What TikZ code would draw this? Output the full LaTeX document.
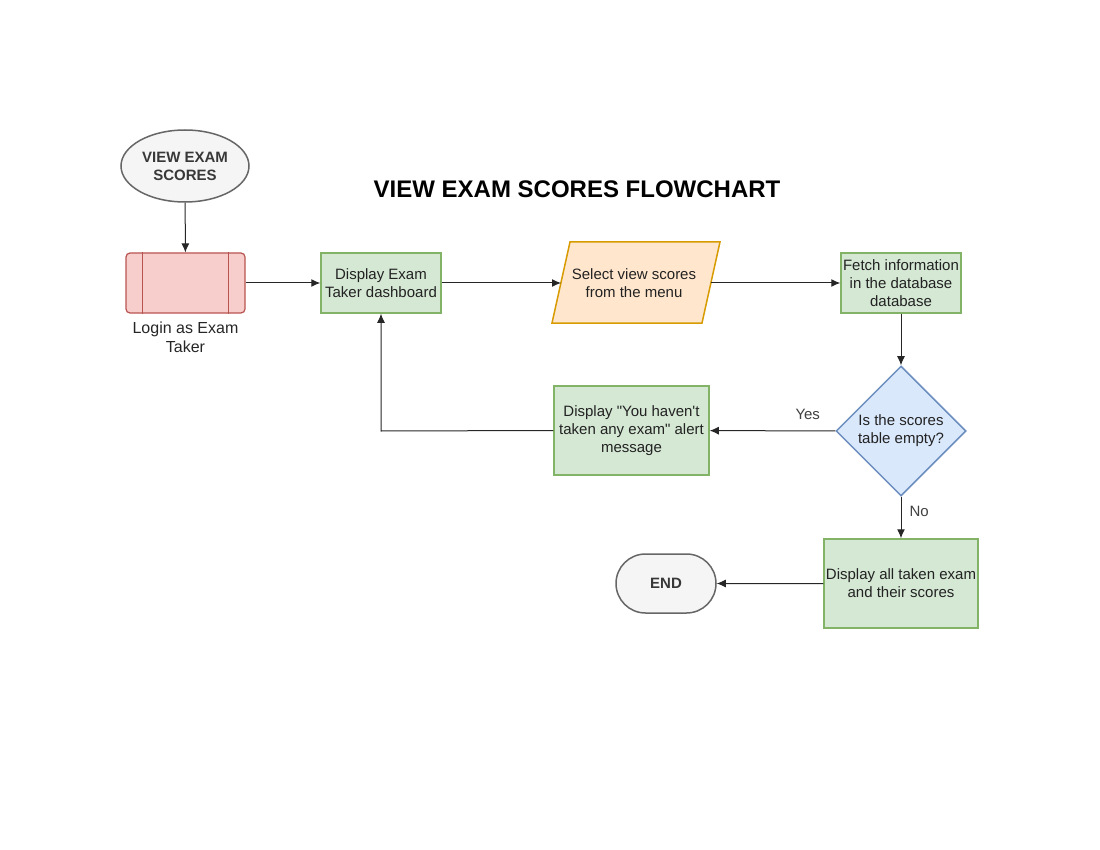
\documentclass[tikz,border=0pt]{standalone}
\usepackage{fontspec}
\setmainfont{Liberation Sans}
\newfontfamily\lib{Liberation Sans}
\usetikzlibrary{shapes.geometric,shapes.misc,arrows.meta}
\definecolor{grnF}{HTML}{D5E8D4}
\definecolor{grnD}{HTML}{82B366}
\definecolor{redF}{HTML}{F8CECC}
\definecolor{redD}{HTML}{B85450}
\definecolor{orgF}{HTML}{FFE6CC}
\definecolor{orgD}{HTML}{D79B00}
\definecolor{bluF}{HTML}{DAE8FC}
\definecolor{bluD}{HTML}{6C8EBF}
\definecolor{gryF}{HTML}{F5F5F5}
\definecolor{gryD}{HTML}{666666}
\definecolor{txt}{HTML}{222222}
\tikzset{
  base/.style={font=\lib\fontsize{15}{18}\selectfont, text=txt, align=center, inner sep=0pt},
  greenbox/.style={base, draw=grnD, fill=grnF, line width=1.5pt, minimum width=#1},
  term/.style={base, draw=gryD, fill=gryF, line width=1.5pt, font=\lib\fontsize{15}{18}\selectfont\bfseries, text=txt!90},
  conn/.style={-{Latex[length=9pt,width=8pt]}, line width=1pt, draw=black!85},
  lbl/.style={font=\lib\fontsize{15}{18}\selectfont, text=black!75, inner sep=1pt}
}
\begin{document}
\begin{tikzpicture}[x=1pt,y=-1pt]
\useasboundingbox (0,0) rectangle (1100,850);
% title
\node[font=\lib\fontsize{24}{28}\selectfont\bfseries] (title) at (577,189) {VIEW EXAM SCORES FLOWCHART};
% start
\node[term, ellipse, minimum width=128pt, minimum height=72pt] (start) at (185,166) {VIEW EXAM\\SCORES};
% login predefined process
\node[base, draw=redD, fill=redF, line width=1.2pt, rounded corners=4pt, minimum width=119pt, minimum height=60pt] (login) at (185.5,283) {};
\draw[redD, line width=1.2pt] ([xshift=17pt]login.north west) -- ([xshift=17pt]login.south west);
\draw[redD, line width=1.2pt] ([xshift=-17pt]login.north east) -- ([xshift=-17pt]login.south east);
\node[base, font=\lib\fontsize{16}{19}\selectfont, text=black!85, anchor=north] (logintext) at (185.5,322) {Login as Exam\\Taker};
% dashboard
\node[greenbox=120pt, minimum height=60pt] (dash) at (381,283) {Display Exam\\Taker dashboard};
% select (parallelogram)
\coordinate (selA) at (570,242);
\coordinate (selB) at (720,242);
\coordinate (selC) at (702,323);
\coordinate (selD) at (552,323);
\draw[orgD, fill=orgF, line width=1.5pt] (selA) -- (selB) -- (selC) -- (selD) -- cycle;
\node[base] (sel) at (634,283) {Select view scores\\from the menu};
\coordinate (selin) at (561,283);
\coordinate (selout) at (711,283);
% fetch
\node[greenbox=120pt, minimum height=60pt] (fetch) at (901,283) {Fetch information\\in the database\\database};
% decision
\node[base, diamond, aspect=1, draw=bluD, fill=bluF, line width=1.5pt, minimum width=130pt, minimum height=130pt] (dec) at (901,431) {Is the scores\\table empty?};
% alert
\node[greenbox=155pt, minimum height=89pt] (alert) at (631.5,430.5) {Display "You haven't\\taken any exam" alert\\message};
% display all
\node[greenbox=154pt, minimum height=89pt] (all) at (901,583.5) {Display all taken exam\\and their scores};
% end
\node[term, rounded rectangle, minimum width=100pt, minimum height=59pt] (end) at (666,583.5) {END};
\coordinate (turn) at (381,431);
% connectors
\draw[conn] (start) -- (login);
\draw[conn] (login) -- (dash);
\draw[conn] (dash) -- (selin);
\draw[conn] (selout) -- (fetch);
\draw[conn] (fetch) -- (dec);
\draw[conn] (dec) -- node[lbl, fill=white, pos=0.22, above=10pt] {Yes} (alert);
\draw[conn] (alert.west) -- (turn) -- (dash.south);
\draw[conn] (dec) -- node[lbl, pos=0.35, right=7pt] {No} (all);
\draw[conn] (all) -- (end);
\end{tikzpicture}
\end{document}
